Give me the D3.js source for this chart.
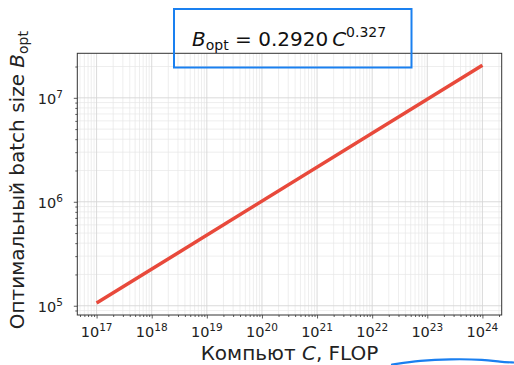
<!DOCTYPE html>
<html>
<head>
<meta charset="utf-8">
<script src="https://cdn.jsdelivr.net/npm/d3@7"></script>
<style>
  html, body { margin: 0; padding: 0; background: #fff; }
  svg { display: block; font-family: "DejaVu Sans", sans-serif; }
</style>
</head>
<body>
<div id="chart"></div>
<script>
// fitted line end points
const computeFlop = [1e17, 1e24];
const batchSize = [1.06e5, 2.06e7];
const xTickExp = [17, 18, 19, 20, 21, 22, 23, 24];
const yTickExp = [5, 6, 7];

const W = 514, H = 365;
const margin = {top: 53.3, right: 12.3, bottom: 50, left: 77.3};
const width = W - margin.left - margin.right,
    height = H - margin.top - margin.bottom;

const svg = d3.select('#chart').append('svg')
    .attr('width', W)
    .attr('height', H);

const g = svg.append('g')
    .attr('transform', `translate(${margin.left},${margin.top})`);

// matplotlib style 5% margins in log space
const pad = (ext) => {
    const lo = Math.log10(ext[0]), hi = Math.log10(ext[1]);
    const m = (hi - lo) * 0.05;
    return [10 ** (lo - m), 10 ** (hi + m)];
};

const xScale = d3.scaleLog().domain(pad(d3.extent(computeFlop))).range([0, width]);
const yScale = d3.scaleLog().domain(pad(d3.extent(batchSize))).range([height, 0]);

const minorOf = (scale) => {
    const [a, b] = scale.domain();
    const out = [];
    for (let e = Math.floor(Math.log10(a)); e <= Math.ceil(Math.log10(b)); e++) {
        for (let k = 2; k <= 9; k++) {
            const v = k * 10 ** e;
            if (v >= a && v <= b) out.push(v);
        }
    }
    return out;
};
const xMinor = minorOf(xScale), yMinor = minorOf(yScale);
const xMajor = xTickExp.map(e => 10 ** e), yMajor = yTickExp.map(e => 10 ** e);

// grid
const grid = g.append('g');
grid.selectAll('.vminor').data(xMinor).join('line')
    .attr('x1', d => xScale(d)).attr('x2', d => xScale(d))
    .attr('y1', 0).attr('y2', height)
    .attr('stroke', '#e6e6e6').attr('stroke-width', 0.7);
grid.selectAll('.hminor').data(yMinor).join('line')
    .attr('y1', d => yScale(d)).attr('y2', d => yScale(d))
    .attr('x1', 0).attr('x2', width)
    .attr('stroke', '#e6e6e6').attr('stroke-width', 0.7);
grid.selectAll('.vmajor').data(xMajor).join('line')
    .attr('x1', d => xScale(d)).attr('x2', d => xScale(d))
    .attr('y1', 0).attr('y2', height)
    .attr('stroke', '#d6d6d6').attr('stroke-width', 0.9);
grid.selectAll('.hmajor').data(yMajor).join('line')
    .attr('y1', d => yScale(d)).attr('y2', d => yScale(d))
    .attr('x1', 0).attr('x2', width)
    .attr('stroke', '#d6d6d6').attr('stroke-width', 0.9);

// fitted line
const pts = computeFlop.map((c, i) => [c, batchSize[i]]);
g.append('path')
    .datum(pts)
    .attr('d', d3.line().x(d => xScale(d[0])).y(d => yScale(d[1])))
    .attr('fill', 'none')
    .attr('stroke', '#e8493b')
    .attr('stroke-width', 3.5);

// axes (ticks only, labels drawn by hand for the superscripts)
const xAxis = g.append('g').attr('transform', `translate(0,${height})`);
xAxis.call(d3.axisBottom(xScale).tickValues(xMajor).tickSize(3.5).tickFormat(''));
xAxis.append('g').call(d3.axisBottom(xScale).tickValues(xMinor).tickSize(2).tickFormat(''));
xAxis.selectAll('.domain').remove();
xAxis.selectAll('line').attr('stroke', '#333').attr('stroke-width', 0.8);

const yAxis = g.append('g');
yAxis.call(d3.axisLeft(yScale).tickValues(yMajor).tickSize(3.5).tickFormat(''));
yAxis.append('g').call(d3.axisLeft(yScale).tickValues(yMinor).tickSize(2).tickFormat(''));
yAxis.selectAll('.domain').remove();
yAxis.selectAll('line').attr('stroke', '#333').attr('stroke-width', 0.8);

const powLabel = (sel, exp) => {
    sel.append('tspan').text('10');
    sel.append('tspan').attr('dy', -6).style('font-size', '10.5px').text(exp);
};

g.selectAll('.xlab').data(xTickExp).join('text')
    .attr('x', d => xScale(10 ** d))
    .attr('y', height + 21.7)
    .attr('text-anchor', 'middle')
    .style('font-size', '14.5px')
    .attr('fill', '#222')
    .each(function (d) { powLabel(d3.select(this), d); });

g.selectAll('.ylab').data(yTickExp).join('text')
    .attr('x', -14.3)
    .attr('y', d => yScale(10 ** d) + 6.5)
    .attr('text-anchor', 'end')
    .style('font-size', '14.5px')
    .attr('fill', '#222')
    .each(function (d) { powLabel(d3.select(this), d); });

// frame
g.append('rect')
    .attr('width', width).attr('height', height)
    .attr('fill', 'none')
    .attr('stroke', '#333')
    .attr('stroke-width', 1);

// axis titles
const xt = svg.append('text')
    .attr('x', margin.left + width / 2)
    .attr('y', 360)
    .attr('text-anchor', 'middle')
    .style('font-size', '20px')
    .attr('fill', '#222');
xt.append('tspan').text('Компьют ');
xt.append('tspan').style('font-style', 'italic').text('C');
xt.append('tspan').text(', FLOP');

const yt = svg.append('text')
    .attr('transform', `translate(23.5,${margin.top + height / 2 - 4}) rotate(-90)`)
    .attr('text-anchor', 'middle')
    .style('font-size', '20px')
    .attr('fill', '#222');
yt.append('tspan').text('Оптимальный batch size ');
yt.append('tspan').style('font-style', 'italic').text('B');
yt.append('tspan').attr('dy', 4).style('font-size', '14px').text('opt');

// formula box (annotation)
svg.append('rect')
    .attr('x', 174).attr('y', 9)
    .attr('width', 237.5).attr('height', 58.5)
    .attr('fill', 'none')
    .attr('stroke', '#1a80f0')
    .attr('stroke-width', 2);

const ft = svg.append('text')
    .attr('x', 192)
    .attr('y', 45.7)
    .style('font-size', '20px')
    .attr('fill', '#111');
ft.append('tspan').style('font-style', 'italic').text('B');
ft.append('tspan').attr('dy', 4.5).style('font-size', '14px').text('opt');
ft.append('tspan').attr('dy', -4.5).text(' = 0.2920\u2009');
ft.append('tspan').style('font-style', 'italic').text('C');
ft.append('tspan').attr('dy', -9).style('font-size', '14px').text('0.327');

// hand-drawn underline stroke
const squiggle = [[392, 364.5], [420, 360.5], [450, 359], [485, 359.5], [500, 362], [514, 362.5]];
svg.append('path')
    .attr('d', d3.line().curve(d3.curveBasis)(squiggle))
    .attr('fill', 'none')
    .attr('stroke', '#1a7ff0')
    .attr('stroke-width', 2.2)
    .attr('stroke-linecap', 'round');
</script>
</body>
</html>
